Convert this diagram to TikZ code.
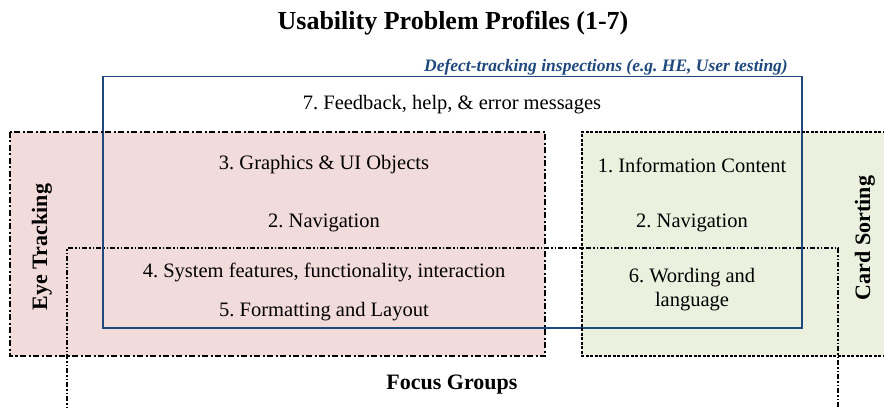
\documentclass[tikz,border=0pt]{standalone}
\usepackage{fontspec}
\setmainfont{Liberation Serif}
\usepackage{xcolor}
\definecolor{eye}{RGB}{242, 220, 219}
\definecolor{card}{RGB}{235, 241, 222}
\definecolor{defect}{RGB}{31, 73, 125}
\frenchspacing

\tikzset{
  item/.style={inner sep=0pt, font=\fontsize{20.5}{24}\selectfont, align=center},
  method/.style={inner sep=0pt, font=\fontsize{22}{26}\selectfont\bfseries},
}

\begin{document}
\begin{tikzpicture}[x=1pt, y=-1pt]
      \useasboundingbox (0, 0) rectangle (884, 409);
      % shaded method areas
      \fill[color=eye] (10, 132) rectangle (545, 356);
      \fill[color=card] (582, 132) rectangle (890, 356);
      % focus groups
      \draw[line width=1.6pt, dash pattern=on 5pt off 2pt on 1.5pt off 2pt on 1.5pt off 2pt] (67, 415)--(67, 248)--(838, 248)--(838, 415);
      % defect tracking
      \draw[color=defect, line width=1.6pt] (103, 76.5) rectangle (802, 328);
      \draw[line width=2pt, dash pattern=on 6pt off 2.5pt on 2pt off 2.5pt] (10, 132) rectangle (545, 356);
      \draw[line width=2pt, dash pattern=on 3pt off 1.5pt] (890, 132)--(582, 132)--(582, 356)--(890, 356);

      \node[font=\fontsize{26}{30}\selectfont\bfseries, inner sep=0pt] (title) at (453, 23) {Usability Problem Profiles (1-7)};
      \node[font=\fontsize{17.5}{21}\selectfont\bfseries\itshape, color=defect, inner sep=0pt, anchor=east] (defect) at (788, 67) {Defect-tracking inspections (e.g. HE, User testing)};
      \node[item] (fb) at (452, 105) {7. Feedback, help, \& error messages};
      \node[item] (gfx) at (324, 165) {3. Graphics \& UI Objects};
      \node[item] (navL) at (324, 223) {2. Navigation};
      \node[item] (sysf) at (324, 272) {4. System features, functionality, interaction};
      \node[item] (fmt) at (324, 312) {5. Formatting and Layout};
      \node[item] (info) at (692, 165) {1. Information Content};
      \node[item] (navR) at (692, 223) {2. Navigation};
      \node[item] (word) at (692, 290) {6. Wording and\\language};
      \node[method, rotate=90] (eye) at (42, 247) {Eye Tracking};
      \node[method, rotate=90] (card) at (865, 238) {Card Sorting};
      \node[method] (focus) at (452, 385) {Focus Groups};
    \end{tikzpicture}
\end{document}
